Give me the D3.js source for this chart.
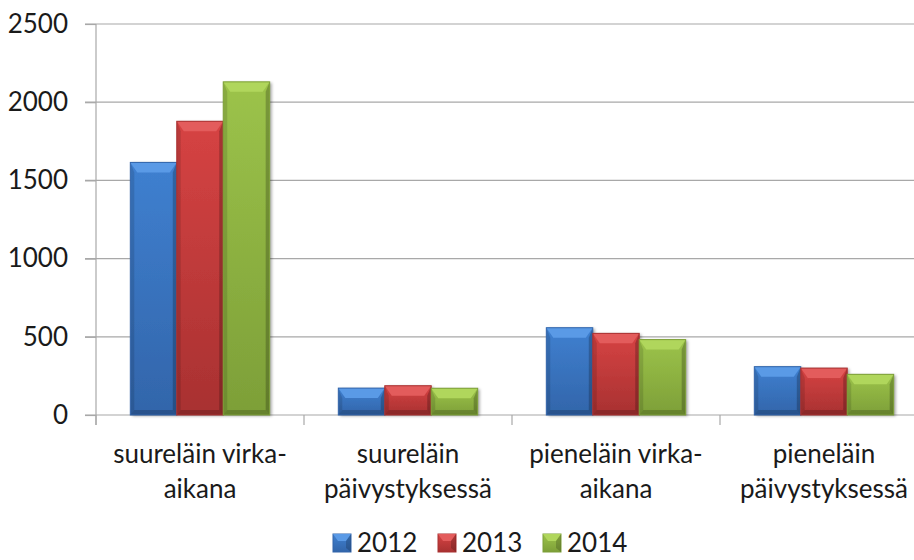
<!DOCTYPE html>
<html lang="fi">
<head>
<meta charset="UTF-8"/>
<title>Grouped bar chart</title>
<script src="https://d3js.org/d3.v7.min.js"></script>
<style>
    body { margin: 0; background: #fff; }
    text { font-family: Lato, "Open Sans", sans-serif; fill: #1a1a1a; }
    .grid line { stroke: #a8a8a8; stroke-width: 1.2px; }
    .axis path, .axis line { stroke: #a8a8a8; stroke-width: 1.2px; }
</style>
</head>
<body>
<div id="chart"></div>
<script>
// data
var categories = ["suureläin virka-aikana", "suureläin päivystyksessä", "pieneläin virka-aikana", "pieneläin päivystyksessä"];
var labelLines = [["suureläin virka-", "aikana"], ["suureläin", "päivystyksessä"], ["pieneläin virka-", "aikana"], ["pieneläin", "päivystyksessä"]];
var years = ["2012", "2013", "2014"];
var v2012 = [1615, 172, 558, 309];
var v2013 = [1878, 187, 522, 300];
var v2014 = [2130, 171, 482, 260];
var yTicks = [0, 500, 1000, 1500, 2000, 2500];

var series = [v2012, v2013, v2014];
var colors = [
    {light: "#5a9ae6", mid: "#3f80d0", dark: "#3265aa"},
    {light: "#e35c5c", mid: "#d64343", dark: "#a83131"},
    {light: "#b0d65c", mid: "#9cc34a", dark: "#7d9f38"}
];

var W = 914, H = 560;
var plotLeft = 96, plotTop = 24, plotBottom = 415;
var step = 208;
var fontSize = "26px";

var svg = d3.select("#chart").append("svg")
    .attr("width", W)
    .attr("height", H);

var defs = svg.append("defs");
var shadow = defs.append("filter").attr("id", "shadow")
    .attr("x", "-20%").attr("y", "-20%").attr("width", "150%").attr("height", "150%");
shadow.append("feDropShadow").attr("dx", 2).attr("dy", 1).attr("stdDeviation", 1.5)
    .attr("flood-color", "#000").attr("flood-opacity", 0.35);

colors.forEach(function(c, i) {
    var g = defs.append("linearGradient").attr("id", "body" + i)
        .attr("x1", 0).attr("y1", 0).attr("x2", 0).attr("y2", 1);
    g.append("stop").attr("offset", "0%").attr("stop-color", c.mid);
    g.append("stop").attr("offset", "100%").attr("stop-color", c.dark);
});

var x0 = d3.scaleBand()
    .domain(categories)
    .range([plotLeft, plotLeft + step * categories.length])
    .paddingInner(0.33)
    .paddingOuter(0.165);

var x1 = d3.scaleBand()
    .domain(years)
    .range([0, x0.bandwidth()]);

var y = d3.scaleLinear()
    .domain([0, 2500])
    .range([plotBottom, plotTop]);

// gridlines
svg.append("g")
    .attr("class", "grid")
    .selectAll("line")
    .data(yTicks)
    .enter()
    .append("line")
    .attr("x1", plotLeft - 11)
    .attr("x2", W)
    .attr("y1", function(d) { return y(d); })
    .attr("y2", function(d) { return y(d); });

// y axis
var yAxis = svg.append("g")
    .attr("class", "axis")
    .attr("transform", "translate(" + plotLeft + ",0)")
    .call(d3.axisLeft(y).tickValues(yTicks).tickFormat(d3.format("d"))
        .tickSize(11).tickPadding(17).tickSizeOuter(0));
yAxis.select(".domain").remove();
yAxis.selectAll("text").style("font-size", fontSize).attr("fill", "#1a1a1a");
svg.append("line")
    .attr("x1", plotLeft).attr("x2", plotLeft)
    .attr("y1", plotTop).attr("y2", plotBottom + 10)
    .attr("stroke", "#a8a8a8").attr("stroke-width", 1.2);

// x axis category boundary ticks
svg.append("g")
    .attr("class", "axis")
    .selectAll("line")
    .data(categories)
    .enter()
    .append("line")
    .attr("x1", function(d) { return x0(d) - x0.step() * x0.paddingOuter(); })
    .attr("x2", function(d) { return x0(d) - x0.step() * x0.paddingOuter(); })
    .attr("y1", plotBottom)
    .attr("y2", plotBottom + 10);

// bars
var bars = [];
categories.forEach(function(c, ci) {
    years.forEach(function(yr, si) {
        bars.push({cat: c, year: yr, s: si, value: series[si][ci]});
    });
});

function bevelBar(g, d) {
    var bx = x0(d.cat) + x1(d.year), bw = x1.bandwidth();
    var by = y(d.value), bh = y(0) - y(d.value);
    var c = colors[d.s];
    var bt = Math.min(10, bh / 2), bs = Math.min(7, bw / 4), bb = Math.min(5, bh / 4);
    var el = d3.select(g);
    el.append("rect")
        .attr("x", bx).attr("y", by).attr("width", bw).attr("height", bh)
        .attr("fill", "url(#body" + d.s + ")")
        .attr("filter", "url(#shadow)");
    // left side
    el.append("polygon")
        .attr("points", [[bx, by], [bx + 4, by + bt], [bx + 4, by + bh - bb], [bx, by + bh]].join(" "))
        .attr("fill", "#000").attr("fill-opacity", 0.12);
    // right side
    el.append("polygon")
        .attr("points", [[bx + bw, by], [bx + bw - 4, by + bt], [bx + bw - 4, by + bh - bb], [bx + bw, by + bh]].join(" "))
        .attr("fill", "#000").attr("fill-opacity", 0.22);
    // bottom
    el.append("polygon")
        .attr("points", [[bx, by + bh], [bx + 4, by + bh - bb], [bx + bw - 4, by + bh - bb], [bx + bw, by + bh]].join(" "))
        .attr("fill", "#000").attr("fill-opacity", 0.18);
    // top bevel
    el.append("polygon")
        .attr("points", [[bx, by], [bx + bw, by], [bx + bw - bs, by + bt], [bx + bs, by + bt]].join(" "))
        .attr("fill", c.light);
    el.append("rect")
        .attr("x", bx).attr("y", by).attr("width", bw).attr("height", bh)
        .attr("fill", "none")
        .attr("stroke", c.dark).attr("stroke-width", 1);
}

svg.append("g")
    .selectAll("g")
    .data(bars)
    .enter()
    .append("g")
    .each(function(d) { bevelBar(this, d); });

// category labels
var labels = svg.append("g")
    .selectAll("text")
    .data(categories)
    .enter()
    .append("text")
    .attr("text-anchor", "middle")
    .style("font-size", fontSize)
    .attr("x", function(d) { return x0(d) + x0.bandwidth() / 2; })
    .attr("y", 463);
labels.selectAll("tspan")
    .data(function(d, i) { return labelLines[i]; })
    .enter()
    .append("tspan")
    .attr("x", function() { return d3.select(this.parentNode).attr("x"); })
    .attr("dy", function(d, i) { return i === 0 ? 0 : 35; })
    .text(function(d) { return d; });

// legend
var legend = svg.append("g")
    .selectAll("g")
    .data(years)
    .enter()
    .append("g")
    .attr("transform", function(d, i) { return "translate(" + (333 + i * 105) + ",534)"; });

legend.each(function(d, i) {
    var c = colors[i];
    var el = d3.select(this);
    el.append("rect").attr("width", 18).attr("height", 18).attr("fill", "url(#body" + i + ")")
        .attr("stroke", c.dark).attr("stroke-width", 1);
    el.append("polygon").attr("points", "0,0 18,0 13,7 5,7").attr("fill", c.light);
    el.append("polygon").attr("points", "18,0 13,7 13,14 18,18").attr("fill", "#000").attr("fill-opacity", 0.18);
    el.append("text")
        .attr("x", 24)
        .attr("y", 18)
        .style("font-size", fontSize)
        .text(d);
});
</script>
</body>
</html>
